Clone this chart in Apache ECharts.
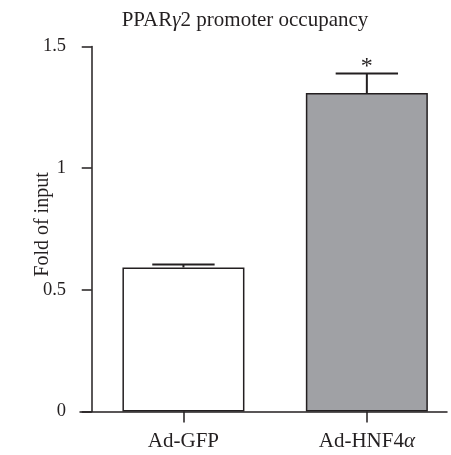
<!DOCTYPE html>
<html>
<head>
<meta charset="utf-8">
<script src="https://cdn.jsdelivr.net/npm/echarts@6/dist/echarts.min.js"></script>
<style>
  html, body { margin: 0; padding: 0; background: #fff; }
  #chart { width: 451px; height: 455px; }
</style>
</head>
<body>
<div id="chart"></div>
<script>
// groups and measured values (fold of input)
const categories = ['Ad-GFP', 'Ad-HNF4α']
const means = [0.592, 1.309]
const errors = [0.012, 0.08]
const barColors = ['#ffffff', '#a0a1a5']
const marks = ['', '*']
const yTicks = [0, 0.5, 1, 1.5]

const FONT = 'Liberation Serif'
const INK = '#231f20'

// category i sits at i + 0.5 on a value axis, so the y axis lands on x = 0
const xPos = categories.map((c, i) => i + 0.5)

function italicLabel(text) {
  // greek letters are set in italic in the original figure
  return text.replace(/([γα])/g, '{i|$1}').split(/(\{i\|[γα]\})/)
    .map(s => s.startsWith('{i|') ? s : (s ? '{n|' + s + '}' : ''))
    .join('')
}

function richStyles(size) {
  return {
    n: { fontFamily: FONT, fontSize: size, fontWeight: 'normal', color: INK },
    i: { fontFamily: FONT, fontSize: size, fontWeight: 'normal', color: INK, fontStyle: 'italic' }
  }
}

const chart = echarts.init(document.getElementById('chart'), null, { renderer: 'canvas' })

chart.setOption({
  backgroundColor: '#ffffff',
  animation: false,
  title: {
    text: italicLabel('PPARγ2 promoter occupancy'),
    left: 240,
    top: 5,
    textAlign: 'center',
    textStyle: {
      fontWeight: 'normal',
      rich: richStyles(21)
    }
  },
  grid: {
    left: 80,
    right: 4,
    top: 46.5,
    height: 365,
    containLabel: false,
    outerBoundsMode: 'none'
  },
  xAxis: {
    type: 'value',
    min: -0.064,
    max: 1.937,
    splitLine: { show: false },
    axisLine: { lineStyle: { color: INK, width: 1.5 } },
    axisTick: {
      customValues: xPos,
      length: 11,
      lineStyle: { color: INK, width: 1.5 }
    },
    axisLabel: {
      customValues: xPos,
      margin: 19,
      formatter: v => italicLabel(categories[Math.round(v - 0.5)]),
      rich: richStyles(21)
    }
  },
  yAxis: {
    type: 'value',
    min: yTicks[0],
    max: yTicks[yTicks.length - 1],
    interval: 0.5,
    name: 'Fold of input',
    nameLocation: 'middle',
    nameGap: 27,
    nameMoveOverlap: false,
    nameTextStyle: { fontFamily: FONT, fontSize: 20, color: INK, padding: [0, 0, 0, 9] },
    splitLine: { show: false },
    axisLine: { show: true, onZero: true, lineStyle: { color: INK, width: 1.5 } },
    axisTick: { show: true, length: 10, lineStyle: { color: INK, width: 1.5 } },
    axisLabel: {
      margin: 14,
      fontFamily: FONT,
      fontSize: 18.5,
      color: INK,
      formatter: v => String(v)
    }
  },
  series: [
    {
      type: 'bar',
      barWidth: 122,
      data: means.map((m, i) => ({
        value: [xPos[i], m],
        itemStyle: { color: barColors[i], borderColor: INK, borderWidth: 1.5 }
      })),
      z: 2
    },
    {
      type: 'custom',
      z: 3,
      data: means.map((m, i) => [xPos[i], m, errors[i], i]),
      renderItem(params, api) {
        const x = api.value(0)
        const m = api.value(1)
        const e = api.value(2)
        const idx = api.value(3)
        const base = api.coord([x, m])
        const top = api.coord([x, m + e])
        const half = api.size([0.34, 0])[0] / 2
        const style = { stroke: INK, lineWidth: 2 }
        const children = [
          { type: 'line', shape: { x1: base[0], y1: base[1], x2: top[0], y2: top[1] }, style },
          { type: 'line', shape: { x1: top[0] - half, y1: top[1], x2: top[0] + half, y2: top[1] }, style }
        ]
        if (marks[idx]) {
          children.push({
            type: 'text',
            style: {
              text: marks[idx],
              x: top[0],
              y: top[1] + 5,
              align: 'center',
              verticalAlign: 'bottom',
              fontFamily: FONT,
              fontSize: 24,
              fill: INK
            }
          })
        }
        return { type: 'group', children }
      }
    }
  ]
})

window.addEventListener('resize', () => chart.resize())
</script>
</body>
</html>
